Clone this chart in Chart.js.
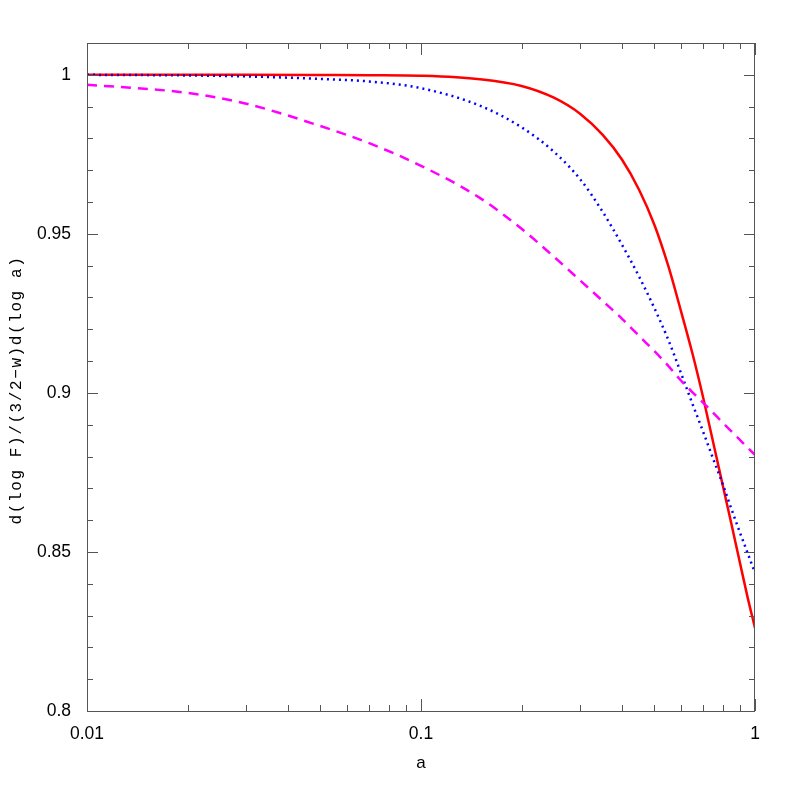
<!DOCTYPE html>
<html>
<head>
<meta charset="utf-8">
<script src="https://cdn.jsdelivr.net/npm/chart.js@4/dist/chart.umd.min.js"></script>
<style>
html,body{margin:0;padding:0;background:#fff;}
#c{display:block;}
</style>
</head>
<body>
<canvas id="c" width="797" height="797"></canvas>
<script>
// ---- data ----
const aValues = [0.01, 0.02, 0.03, 0.05, 0.07, 0.1, 0.15, 0.2, 0.25, 0.3, 0.35, 0.4, 0.45, 0.5, 0.55, 0.6, 0.65, 0.7, 0.75, 0.8, 0.85, 0.9, 0.95, 1.0];
const solidRed = [1.0000, 1.0000, 1.0000, 0.99995, 0.9999, 0.9997, 0.9986, 0.9965, 0.9928, 0.9877, 0.9811, 0.9733, 0.9638, 0.9528, 0.9399, 0.9258, 0.9123, 0.8984, 0.8843, 0.8711, 0.8588, 0.8469, 0.8358, 0.8261];
const dottedBlue = [1.0000, 0.9998, 0.9995, 0.9987, 0.9979, 0.9958, 0.9903, 0.9835, 0.9758, 0.9671, 0.9569, 0.9465, 0.9365, 0.9266, 0.9167, 0.9063, 0.8965, 0.8877, 0.8792, 0.8714, 0.8635, 0.8563, 0.8497, 0.8434];
const dashedMagenta = [0.9969, 0.9943, 0.9909, 0.9839, 0.9785, 0.9714, 0.9613, 0.9516, 0.9428, 0.9353, 0.9289, 0.9233, 0.9179, 0.9131, 0.9085, 0.9039, 0.9002, 0.8969, 0.8937, 0.8907, 0.8879, 0.8853, 0.8828, 0.8805];

const xTickValues = [0.01, 0.1, 1];
const xTickLabels = ["0.01", "0.1", "1"];
const xMinorValues = [0.02,0.03,0.04,0.05,0.06,0.07,0.08,0.09,0.2,0.3,0.4,0.5,0.6,0.7,0.8,0.9];
const yTickValues = [0.8, 0.85, 0.9, 0.95, 1.0];
const yTickLabels = ["0.8", "0.85", "0.9", "0.95", "1"];
const yMinorValues = [0.81,0.82,0.83,0.84,0.86,0.87,0.88,0.89,0.91,0.92,0.93,0.94,0.96,0.97,0.98,0.99];

const xTitle = "a";
const yTitle = "d(log F)/(3/2\u2212w)d(log a)";

const toPts = ys => aValues.map((a, i) => ({x: a, y: ys[i]}));

const frameTicks = {
  id: 'frameTicks',
  afterDraw(chart) {
    const ctx = chart.ctx, ca = chart.chartArea;
    const xs = chart.scales.x, ys = chart.scales.y;
    ctx.save();
    ctx.strokeStyle = '#555';
    ctx.lineWidth = 1;
    ctx.strokeRect(ca.left + 0.5, ca.top + 0.5, ca.right - ca.left - 1, ca.bottom - ca.top);
    const drawX = (vals, len) => {
      vals.forEach(v => {
        const px = Math.round(xs.getPixelForValue(v)) + 0.5;
        ctx.beginPath();
        ctx.moveTo(px, ca.bottom); ctx.lineTo(px, ca.bottom - len);
        ctx.moveTo(px, ca.top); ctx.lineTo(px, ca.top + len);
        ctx.stroke();
      });
    };
    const drawY = (vals, len) => {
      vals.forEach(v => {
        const py = Math.round(ys.getPixelForValue(v)) + 0.5;
        ctx.beginPath();
        ctx.moveTo(ca.left, py); ctx.lineTo(ca.left + len, py);
        ctx.moveTo(ca.right, py); ctx.lineTo(ca.right - len, py);
        ctx.stroke();
      });
    };
    drawX(xTickValues, 12);
    drawX(xMinorValues, 6);
    drawY(yTickValues, 11);
    drawY(yMinorValues, 6);

    ctx.fillStyle = '#000';
    ctx.font = '17px "Liberation Sans", Arial, sans-serif';
    ctx.textAlign = 'center';
    ctx.textBaseline = 'middle';
    ctx.fillText(xTitle, (ca.left + ca.right) / 2, 763);

    ctx.translate(17, 391);
    ctx.rotate(-Math.PI / 2);
    ctx.font = '16px "Liberation Mono", "DejaVu Sans Mono", monospace';
    try { ctx.letterSpacing = '1.6px'; } catch (e) {}
    ctx.fillText(yTitle, 1, 0);
    ctx.restore();
  }
};

new Chart(document.getElementById('c'), {
  type: 'line',
  data: {
    datasets: [
      { data: toPts(dashedMagenta), borderColor: '#ff00ff', borderWidth: 2.5, borderDash: [10, 7], pointRadius: 0, cubicInterpolationMode: 'monotone', fill: false },
      { data: toPts(dottedBlue), borderColor: '#0000ff', borderWidth: 2.5, borderDash: [2, 4], pointRadius: 0, cubicInterpolationMode: 'monotone', fill: false },
      { data: toPts(solidRed), borderColor: '#ff0000', borderWidth: 2.5, pointRadius: 0, cubicInterpolationMode: 'monotone', fill: false }
    ]
  },
  options: {
    responsive: false,
    animation: false,
    events: [],
    layout: { padding: { top: 43, right: 42, left: 0, bottom: 0 } },
    plugins: { legend: { display: false }, tooltip: { enabled: false } },
    scales: {
      x: {
        type: 'logarithmic', min: 0.01, max: 1,
        grid: { display: false }, border: { display: false },
        afterBuildTicks: s => { s.ticks = xTickValues.map(v => ({ value: v })); },
        afterFit: s => { s.height = 86; },
        ticks: {
          autoSkip: false, maxRotation: 0, padding: 5, color: '#000',
          font: { family: '"Liberation Sans", Arial, sans-serif', size: 17.5 },
          callback: (v) => { const i = xTickValues.findIndex(t => Math.abs(t - v) < 1e-9); return i >= 0 ? xTickLabels[i] : ''; }
        }
      },
      y: {
        type: 'linear', min: 0.8, max: 1.01,
        grid: { display: false }, border: { display: false },
        afterBuildTicks: s => { s.ticks = yTickValues.map(v => ({ value: v })); },
        afterFit: s => { s.width = 87; },
        ticks: {
          autoSkip: false, padding: 8, color: '#000',
          font: { family: '"Liberation Sans", Arial, sans-serif', size: 17.5 },
          callback: (v) => { const i = yTickValues.findIndex(t => Math.abs(t - v) < 1e-9); return i >= 0 ? yTickLabels[i] : ''; }
        }
      }
    }
  },
  plugins: [frameTicks]
});
</script>
</body>
</html>
